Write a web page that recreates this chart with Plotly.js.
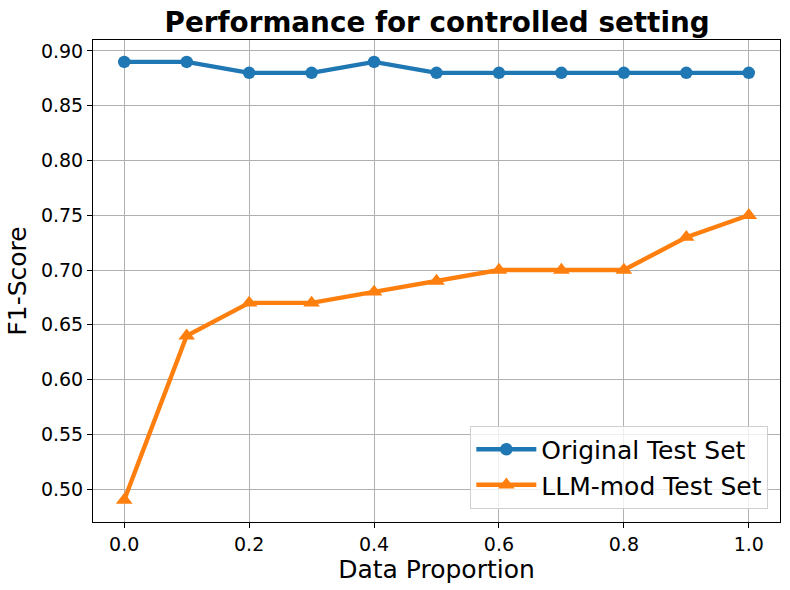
<!DOCTYPE html>
<html><head><meta charset="utf-8">
<script src="https://cdn.plot.ly/plotly-3.0.1.min.js"></script>
<style>body{margin:0;background:#fff}#chart{width:790px;height:590px}</style>
</head><body><div id="chart"></div>
<script>
const proportions = [0.0, 0.1, 0.2, 0.3, 0.4, 0.5, 0.6, 0.7, 0.8, 0.9, 1.0];
const originalF1 = [0.89, 0.89, 0.88, 0.88, 0.89, 0.88, 0.88, 0.88, 0.88, 0.88, 0.88];
const llmModF1 = [0.49, 0.64, 0.67, 0.67, 0.68, 0.69, 0.70, 0.70, 0.70, 0.73, 0.75];
const seriesNames = ["Original Test Set", "LLM-mod Test Set"];
const xTicks = [0.0, 0.2, 0.4, 0.6, 0.8, 1.0];
const yTicks = [0.50, 0.55, 0.60, 0.65, 0.70, 0.75, 0.80, 0.85, 0.90];

const font = "DejaVu Sans, sans-serif";
const traces = [
  {x: proportions, y: originalF1, name: seriesNames[0], mode: "lines+markers",
   line: {color: "#1f77b4", width: 4.4}, marker: {symbol: "circle", size: 12.5, color: "#1f77b4"}},
  {x: proportions, y: llmModF1, name: seriesNames[1], mode: "lines+markers",
   line: {color: "#ff7f0e", width: 4.4}, marker: {symbol: "triangle-up", size: 14.5, color: "#ff7f0e"}}
];
const axisCommon = {showline: true, linecolor: "#000", linewidth: 1, mirror: true,
  ticks: "outside", ticklen: 5, tickcolor: "#000", showgrid: true, gridcolor: "#b0b0b0", gridwidth: 1,
  zeroline: false, tickfont: {family: font, size: 19, color: "#000"}};
const layout = {
  width: 790, height: 590, paper_bgcolor: "#fff", plot_bgcolor: "#fff",
  margin: {l: 93, r: 10, t: 40, b: 68},
  title: {text: "<b>Performance for controlled setting</b>", font: {family: font, size: 27.8, color: "#000"},
          x: 0.5533, xanchor: "center", y: 0.962, yanchor: "middle"},
  xaxis: Object.assign({}, axisCommon, {range: [-0.05, 1.05], tickvals: xTicks,
    ticktext: xTicks.map(v => v.toFixed(1)),
    title: {text: "Data Proportion", font: {family: font, size: 25, color: "#000"}, standoff: 2}}),
  yaxis: Object.assign({}, axisCommon, {range: [0.470, 0.910], tickvals: yTicks,
    ticktext: yTicks.map(v => v.toFixed(2)),
    title: {text: "F1-Score", font: {family: font, size: 25, color: "#000"}, standoff: 7}}),
  legend: {x: 0.983, xanchor: "right", y: 0.028, yanchor: "bottom", itemwidth: 60,
    bgcolor: "rgba(255,255,255,0.8)", bordercolor: "#d0d0d0", borderwidth: 1,
    font: {family: font, size: 25, color: "#000"}},
  showlegend: true
};
Plotly.newPlot("chart", traces, layout, {displayModeBar: false});
</script></body></html>
